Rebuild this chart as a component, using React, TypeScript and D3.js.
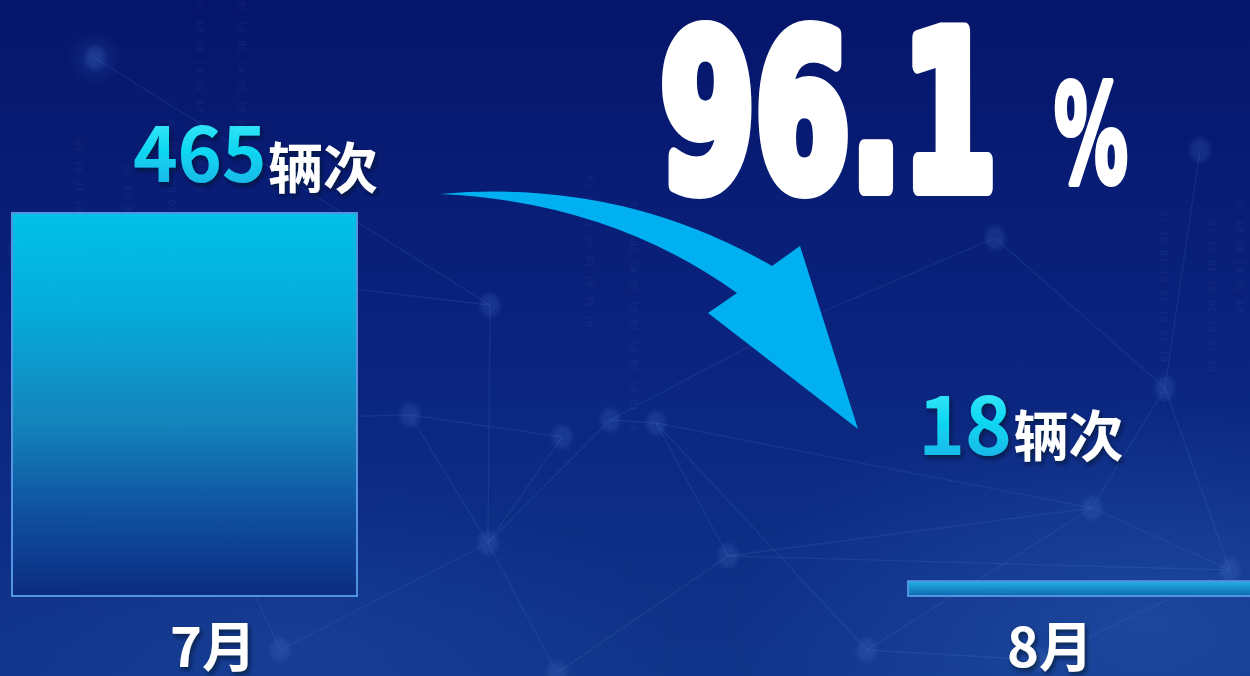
import React from 'react';
import * as d3 from 'd3';

// ---- data ----
const categories: string[] = ['7月', '8月'];
const values: number[] = [465, 18];
const unit = '辆次';

// ---- layout ----
const W = 1250;
const H = 676;
const BAR_LEFT = 12;
const BAR_RIGHT = 1253;
const BASE_Y = 596;
const TOP_Y = 213;
// value label offsets relative to bar (x from bar start, y from bar top)
const valueLabelOffset = [
  { dx: 121, dy: -31, unitDy: 6, size: 76 },
  { dx: 10, dy: -126, unitDy: 1, size: 80 },
];

// decorative background network
const nodes: [number, number][] = [
  [95, 58], [176, 420], [410, 415], [490, 305], [488, 543], [562, 437], [610, 420], [656, 423],
  [728, 556], [867, 650], [557, 673], [995, 238], [1092, 508], [1165, 388], [1230, 570], [1040, 660],
  [280, 650], [20, 250], [780, 330], [1200, 150],
];
const edges: [number, number][] = [
  [1, 2], [1, 16], [1, 17], [2, 5], [2, 4], [3, 4], [3, 17], [5, 4], [6, 4], [6, 7], [7, 8], [7, 12],
  [7, 9], [8, 12], [4, 10], [8, 10], [12, 13], [12, 14], [13, 19], [11, 18], [11, 13], [18, 6], [12, 9],
  [14, 15], [9, 15], [0, 3], [16, 4], [8, 14], [13, 14],
];
const binaryCols: { x: number; y: number; n: number }[] = [
  { x: 75, y: 140, n: 14 }, { x: 124, y: 165, n: 12 }, { x: 168, y: 120, n: 8 }, { x: 196, y: 0, n: 10 },
  { x: 238, y: 0, n: 8 }, { x: 265, y: 270, n: 6 }, { x: 586, y: 175, n: 8 }, { x: 630, y: 200, n: 12 },
  { x: 1160, y: 210, n: 10 }, { x: 1208, y: 220, n: 8 }, { x: 1236, y: 200, n: 6 },
];

export default function App() {
  const x = d3.scaleBand<string>().domain(categories).range([BAR_LEFT, BAR_RIGHT]).paddingInner(0.615).paddingOuter(0);
  const y = d3.scaleLinear().domain([0, d3.max(values) as number]).range([BASE_Y, TOP_Y]);
  const labelX = d3.scalePoint<string>().domain(categories).range([213, 1050]);

  const drop = ((values[0] - values[1]) / values[0]) * 100;
  const dropText = d3.format('.1f')(drop);

  // arrow shape
  const arrow = d3.path();
  arrow.moveTo(440, 194);
  arrow.quadraticCurveTo(620, 178, 772, 266);
  arrow.lineTo(800, 246);
  arrow.lineTo(858, 429);
  arrow.lineTo(708, 313);
  arrow.lineTo(737, 293);
  arrow.quadraticCurveTo(610, 202, 440, 194);
  arrow.closePath();

  return (
    <svg width={W} height={H} style={{ position: 'absolute', left: 0, top: 0, display: 'block' }}
      fontFamily="'Noto Sans CJK SC', 'Noto Sans', sans-serif">
      <defs>
        <linearGradient id="bg" x1="0" y1="0" x2="0" y2="1">
          <stop offset="0" stopColor="#05156a" />
          <stop offset="0.5" stopColor="#0a237e" />
          <stop offset="1" stopColor="#10358a" />
        </linearGradient>
        <radialGradient id="glow" cx="0.5" cy="0.5" r="0.5">
          <stop offset="0" stopColor="#3a78d0" stopOpacity="0.3" />
          <stop offset="1" stopColor="#3a78d0" stopOpacity="0" />
        </radialGradient>
        <linearGradient id="bar1" x1="0" y1="0" x2="0" y2="1">
          <stop offset="0" stopColor="#00c9ef" />
          <stop offset="0.25" stopColor="#05b4e0" />
          <stop offset="0.55" stopColor="#1488be" />
          <stop offset="0.8" stopColor="#0f4f9e" />
          <stop offset="1" stopColor="#0b2b80" />
        </linearGradient>
        <linearGradient id="bar2" x1="0" y1="0" x2="0" y2="1">
          <stop offset="0" stopColor="#22b8e6" />
          <stop offset="1" stopColor="#0c6ab4" />
        </linearGradient>
        <linearGradient id="num" x1="0" y1="0" x2="0" y2="1">
          <stop offset="0" stopColor="#5cf2fb" />
          <stop offset="0.5" stopColor="#10d8f2" />
          <stop offset="1" stopColor="#1aa6e2" />
        </linearGradient>
        <filter id="shadow" x="-20%" y="-20%" width="140%" height="150%">
          <feDropShadow dx="2" dy="3" stdDeviation="2" floodColor="#000820" floodOpacity="0.6" />
        </filter>
        <filter id="blur" x="-50%" y="-50%" width="200%" height="200%">
          <feGaussianBlur stdDeviation="2" />
        </filter>
      </defs>

      {/* background */}
      <rect x={0} y={0} width={W} height={H} fill="url(#bg)" />
      <ellipse cx={1150} cy={620} rx={420} ry={220} fill="url(#glow)" />
      <ellipse cx={300} cy={640} rx={380} ry={160} fill="url(#glow)" opacity={0.5} />
      <ellipse cx={95} cy={58} rx={28} ry={28} fill="url(#glow)" opacity={0.7} />
      <g stroke="#6f9ae6" strokeOpacity={0.12} strokeWidth={1.3}>
        {edges.map(([a, b], i) => (
          <line key={i} x1={nodes[a][0]} y1={nodes[a][1]} x2={nodes[b][0]} y2={nodes[b][1]} />
        ))}
      </g>
      <g fill="#4a78cc" fillOpacity={0.2} filter="url(#blur)">
        {nodes.map(([cx, cy], i) => (
          <ellipse key={i} cx={cx} cy={cy} rx={10} ry={12} />
        ))}
      </g>
      <g fill="#8fb0f0" fillOpacity={0.06} fontSize={11} fontFamily="'DejaVu Sans Mono', monospace" fontWeight="bold">
        {binaryCols.map((c, i) => (
          <text key={i} transform={`translate(${c.x},${c.y}) rotate(90)`}>
            {d3.range(c.n).map((k) => (k % 2 ? '10' : '01')).join(' ')}
          </text>
        ))}
      </g>

      {/* bars */}
      {categories.map((c, i) => (
        <rect key={c}
          x={x(c)}
          y={y(values[i])}
          width={x.bandwidth()}
          height={BASE_Y - y(values[i])}
          fill={i === 0 ? 'url(#bar1)' : 'url(#bar2)'}
          fillOpacity={0.95}
          stroke="#5294e0"
          strokeWidth={2}
        />
      ))}

      {/* value labels */}
      {categories.map((c, i) => {
        const o = valueLabelOffset[i];
        return (
          <text key={c} x={(x(c) as number) + o.dx} y={y(values[i]) + o.dy} fontWeight="bold" filter="url(#shadow)">
            <tspan fill="url(#num)" fontSize={o.size} letterSpacing={-0.5}>{values[i]}</tspan>
            <tspan fill="#ffffff" fontSize={55} dy={o.unitDy} dx={2}>{unit}</tspan>
          </text>
        );
      })}

      {/* category labels */}
      {categories.map((c) => (
        <text key={c} x={labelX(c)} y={667} textAnchor="middle" fill="#ffffff" fontSize={54} fontWeight="bold" filter="url(#shadow)">
          {c}
        </text>
      ))}

      {/* arrow */}
      <path d={arrow.toString()} fill="#00b0f0" />

      {/* decrease percentage */}
      <g fill="#ffffff" stroke="#ffffff" strokeLinejoin="round" fontFamily="'DejaVu Sans', sans-serif" fontWeight="bold">
        <text x={660} y={188} fontSize={216} strokeWidth={16} textLength={337} lengthAdjust="spacingAndGlyphs">
          {dropText}
        </text>
        <text x={1054} y={182} fontSize={136} strokeWidth={6} textLength={74} lengthAdjust="spacingAndGlyphs">
          %
        </text>
      </g>
    </svg>
  );
}
